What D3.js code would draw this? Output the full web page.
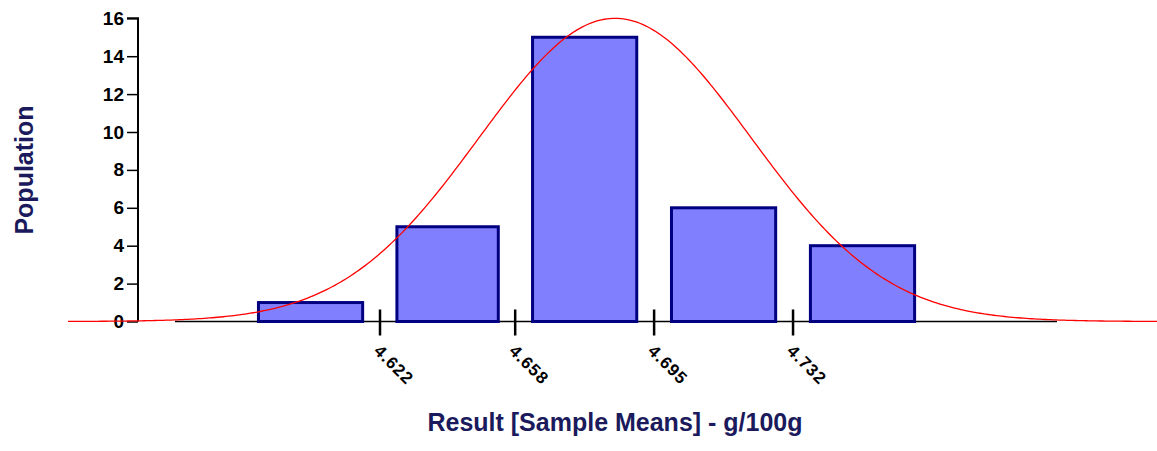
<!DOCTYPE html>
<html>
<head>
<meta charset="utf-8">
<script src="https://cdn.jsdelivr.net/npm/d3@7"></script>
<style>
  body { margin: 0; background: #fff; }
  text { font-family: "Liberation Sans", Arial, sans-serif; }
</style>
</head>
<body>
<svg width="1157" height="451"></svg>
<script>
// histogram bins (edges) and counts
var binEdges = [4.585, 4.622, 4.658, 4.695, 4.732, 4.769];
var counts = [1, 5, 15, 6, 4];
var xTicks = [4.622, 4.658, 4.695, 4.732];
var yTicks = [0, 2, 4, 6, 8, 10, 12, 14, 16];

// fitted normal curve
var mu = 4.6846, sigma = 0.0362, peak = 16;

var svg = d3.select('svg');

var x = d3.scaleLinear()
  .domain([4.5674, 4.8023])
  .range([175, 1057]);

var y = d3.scaleLinear()
  .domain([0, 16])
  .range([321.5, 18.3]);

var bins = counts.map(function(c, i) {
  return { lo: binEdges[i], hi: binEdges[i + 1], n: c };
});

// x axis line
svg.append('line')
  .attr('x1', x.range()[0]).attr('x2', x.range()[1])
  .attr('y1', y(0)).attr('y2', y(0))
  .attr('stroke', '#000').attr('stroke-width', 1.5);

// bars
svg.selectAll('rect.bar')
  .data(bins)
  .enter()
  .append('rect')
    .attr('class', 'bar')
    .attr('x', function(d) { var w = x(d.hi) - x(d.lo); return x(d.lo) + w * 0.125; })
    .attr('width', function(d) { var w = x(d.hi) - x(d.lo); return w * 0.75; })
    .attr('y', function(d) { return y(d.n); })
    .attr('height', function(d) { return y(0) - y(d.n); })
    .attr('fill', '#8080ff')
    .attr('stroke', '#000080')
    .attr('stroke-width', 3);

// x ticks crossing the axis
svg.selectAll('line.xtick')
  .data(xTicks)
  .enter()
  .append('line')
    .attr('class', 'xtick')
    .attr('x1', function(d) { return x(d); })
    .attr('x2', function(d) { return x(d); })
    .attr('y1', y(0) - 12).attr('y2', y(0) + 14)
    .attr('stroke', '#000').attr('stroke-width', 2.5);

svg.selectAll('text.xlab')
  .data(xTicks)
  .enter()
  .append('text')
    .attr('class', 'xlab')
    .attr('transform', function(d) { return 'translate(' + (x(d) - 7) + ',' + 352 + ') rotate(45)'; })
    .attr('font-size', 17)
    .attr('font-weight', 'bold')
    .attr('letter-spacing', 1)
    .attr('fill', '#000')
    .text(function(d) { return d3.format('.3f')(d); });

// y axis
var yAxis = d3.axisLeft(y)
  .tickValues(yTicks)
  .tickSize(11)
  .tickPadding(3)
  .tickFormat(d3.format('d'));

var gy = svg.append('g')
  .attr('transform', 'translate(138,0)')
  .call(yAxis);
gy.select('.domain').attr('stroke', '#000').attr('stroke-width', 2)
  .attr('d', 'M-11,' + y(16) + 'H0V' + y(0));
gy.selectAll('.tick line').attr('stroke', '#000').attr('stroke-width', 1.5);
gy.selectAll('.tick text')
  .attr('font-size', 19)
  .attr('font-weight', 'bold')
  .attr('fill', '#000')
  .style('font-family', '"Liberation Sans", Arial, sans-serif');

// normal curve
var curveX = d3.range(0, 401).map(function(i) {
  return x.invert(68) + (x.invert(1157) - x.invert(68)) * i / 400;
});
var line = d3.line()
  .x(function(d) { return x(d); })
  .y(function(d) { return y(peak * Math.exp(-0.5 * Math.pow((d - mu) / sigma, 2))); });

svg.append('path')
  .datum(curveX)
  .attr('d', line)
  .attr('fill', 'none')
  .attr('stroke', '#ff0000')
  .attr('stroke-width', 1.3);

// axis titles
svg.append('text')
  .attr('transform', 'translate(33,170) rotate(-90)')
  .attr('text-anchor', 'middle')
  .attr('font-size', 25)
  .attr('font-weight', 'bold')
  .attr('fill', '#1a1a5c')
  .text('Population');

svg.append('text')
  .attr('x', 615)
  .attr('y', 431)
  .attr('text-anchor', 'middle')
  .attr('font-size', 25)
  .attr('font-weight', 'bold')
  .attr('fill', '#1a1a5c')
  .text('Result [Sample Means] - g/100g');
</script>
</body>
</html>
